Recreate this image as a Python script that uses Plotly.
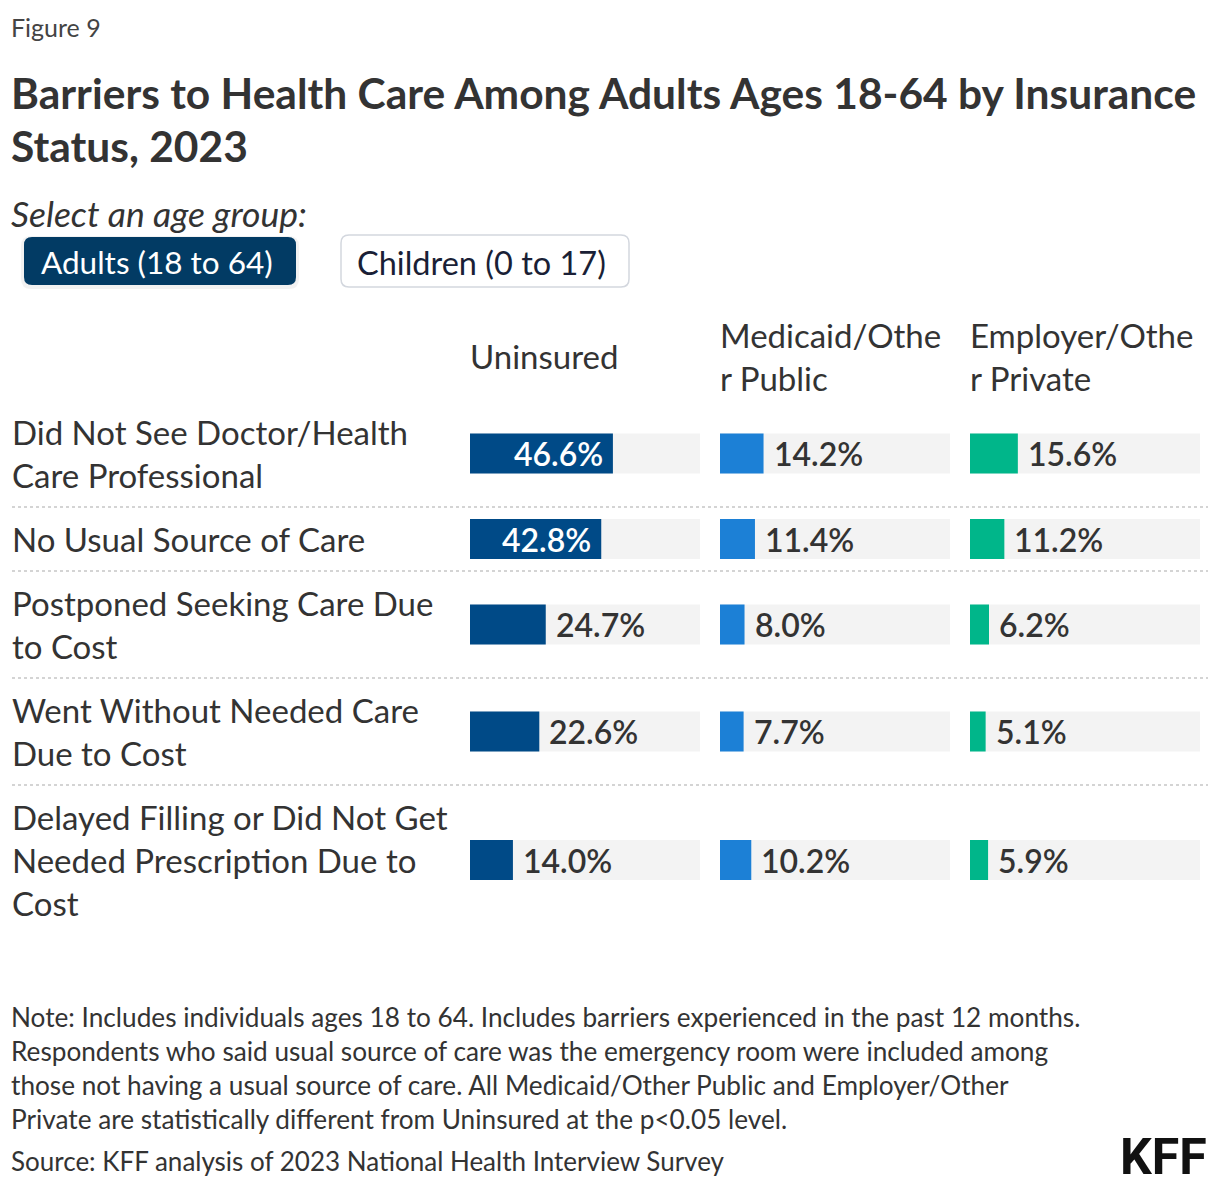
import plotly.graph_objects as go

# ---------------- data ----------------
categories = [
    "Did Not See Doctor/Health<br>Care Professional",
    "No Usual Source of Care",
    "Postponed Seeking Care Due<br>to Cost",
    "Went Without Needed Care<br>Due to Cost",
    "Delayed Filling or Did Not Get<br>Needed Prescription Due to<br>Cost",
]
groups = ["Uninsured", "Medicaid/Othe<br>r Public", "Employer/Othe<br>r Private"]
uninsured = [46.6, 42.8, 24.7, 22.6, 14.0]
medicaid = [14.2, 11.4, 8.0, 7.7, 10.2]
employer = [15.6, 11.2, 6.2, 5.1, 5.9]
series = [uninsured, medicaid, employer]
colors = ["#004a87", "#1c80d6", "#00b68a"]

title_lines = ["Barriers to Health Care Among Adults Ages 18-64 by Insurance", "Status, 2023"]
note_lines = [
    "Note: Includes individuals ages 18 to 64. Includes barriers experienced in the past 12 months.",
    "Respondents who said usual source of care was the emergency room were included among",
    "those not having a usual source of care. All Medicaid/Other Public and Employer/Other",
    "Private are statistically different from Uninsured at the p<0.05 level.",
]
source_text = "Source: KFF analysis of 2023 National Health Interview Survey"

# ---------------- layout constants ----------------
W, H = 1220, 1190
XMAX = 75
FONT = "Lato"
TXT = "#333333"
COL_X = [470, 720, 970]
COL_W = 230
BAR_H = 40
ROW_TOP = 400
LINE_H = 43
ROW_PAD = 21

# row geometry derived from the number of label lines
lines = [c.count("<br>") + 1 for c in categories]
row_h = [ROW_PAD + LINE_H * n for n in lines]
row_tops = []
t = ROW_TOP
for h in row_h:
    row_tops.append(t)
    t += h
row_centers = [rt + h / 2 for rt, h in zip(row_tops, row_h)]

fig = go.Figure()
axes = ["x", "x2", "x3"]
for i, (vals, col, ax) in enumerate(zip(series, colors, axes)):
    fig.add_trace(go.Bar(
        x=[XMAX] * len(vals), y=row_centers, orientation="h", width=BAR_H,
        marker=dict(color="#f3f3f3", line=dict(width=0)), xaxis=ax, yaxis="y",
        hoverinfo="skip", showlegend=False))
    fig.add_trace(go.Bar(
        x=vals, y=row_centers, orientation="h", width=BAR_H,
        marker=dict(color=col, line=dict(width=0)), xaxis=ax, yaxis="y",
        name=groups[i].replace("<br>", ""), showlegend=False,
        hovertemplate="%{x:.1f}%<extra></extra>"))

annotations = []
shapes = []

# value labels
for vals, ax in zip(series, axes):
    for v, yc in zip(vals, row_centers):
        inside = v / XMAX > 0.5
        annotations.append(dict(
            x=v, y=yc, xref=ax, yref="y", text=f"{v:.1f}%", showarrow=False,
            xanchor="right" if inside else "left", yanchor="middle",
            xshift=-8 if inside else 8,
            font=dict(family=FONT, size=32, weight=600,
                      color="white" if inside else TXT)))

# category labels
for c, yc in zip(categories, row_centers):
    annotations.append(dict(
        x=10, y=yc, xref="x4", yref="y", text=c, showarrow=False,
        xanchor="left", yanchor="middle", align="left",
        font=dict(family=FONT, size=33, color=TXT)))

# column headers
for g, cx in zip(groups, COL_X):
    annotations.append(dict(
        x=cx - 2, y=356, xref="x4", yref="y", text=g, showarrow=False,
        xanchor="left", yanchor="middle", align="left",
        font=dict(family=FONT, size=33, color=TXT)))

# row separators
for rt in row_tops[1:]:
    shapes.append(dict(type="line", xref="x4", yref="y", x0=12, x1=1208, y0=rt, y1=rt,
                       line=dict(color="#d4d4d4", width=2, dash="dot")))

# header texts
annotations.append(dict(x=9, y=27, xref="x4", yref="y", text="Figure 9", showarrow=False,
                        xanchor="left", yanchor="middle",
                        font=dict(family=FONT, size=25, color="#444444")))
for i, tl in enumerate(title_lines):
    annotations.append(dict(x=9, y=92 + 53 * i, xref="x4", yref="y", text=f"<b>{tl}</b>",
                            showarrow=False, xanchor="left", yanchor="middle",
                            font=dict(family=FONT, size=42.5, color=TXT)))
annotations += [
    dict(x=9, y=213, xref="x4", yref="y", text="<i>Select an age group:</i>", showarrow=False,
         xanchor="left", yanchor="middle", font=dict(family=FONT, size=35.5, color=TXT)),
    dict(x=157, y=262, xref="x4", yref="y", text="Adults (18 to 64)", showarrow=False,
         xanchor="center", yanchor="middle", font=dict(family=FONT, size=31.5, color="white")),
    dict(x=481, y=262, xref="x4", yref="y", text="Children (0 to 17)", showarrow=False,
         xanchor="center", yanchor="middle", font=dict(family=FONT, size=32.5, color="#1a1f36")),
]
for i, nl in enumerate(note_lines):
    annotations.append(dict(x=9, y=1017 + 34 * i, xref="x4", yref="y", text=nl,
                            showarrow=False, xanchor="left", yanchor="middle",
                            font=dict(family=FONT, size=26.2, color=TXT)))
annotations += [
    dict(x=9, y=1161, xref="x4", yref="y", text=source_text,
         showarrow=False, xanchor="left", yanchor="middle",
         font=dict(family=FONT, size=26, color=TXT)),
    dict(x=1209, y=1157, xref="x4", yref="y", text="<b>KFF</b>", showarrow=False,
         xanchor="right", yanchor="middle",
         font=dict(family="Liberation Sans Narrow, Roboto", size=50, color="#111111")),
]


def rounded(x0, y0, x1, y1, r):
    return (f"M{x0+r},{y0} L{x1-r},{y0} Q{x1},{y0} {x1},{y0+r} L{x1},{y1-r} "
            f"Q{x1},{y1} {x1-r},{y1} L{x0+r},{y1} Q{x0},{y1} {x0},{y1-r} "
            f"L{x0},{y0+r} Q{x0},{y0} {x0+r},{y0} Z")


# soft shadow under the active button
shapes.append(dict(type="path", xref="x4", yref="y", path=rounded(21, 236, 299, 289, 10),
                   fillcolor="rgba(0,0,0,0.05)", line=dict(width=0), layer="below"))
shapes.append(dict(type="path", xref="x4", yref="y", path=rounded(24, 237, 296, 285, 8),
                   fillcolor="#023b64", line=dict(width=0), layer="below"))
shapes.append(dict(type="path", xref="x4", yref="y", path=rounded(341, 235, 629, 287, 8),
                   fillcolor="white", line=dict(color="#d3d7de", width=1.5), layer="below"))

layout_axes = {}
for i, ax in enumerate(axes):
    key = "xaxis" if i == 0 else f"xaxis{i+1}"
    layout_axes[key] = dict(domain=[COL_X[i] / W, (COL_X[i] + COL_W) / W], range=[0, XMAX],
                            visible=False, anchor="y", fixedrange=True)
layout_axes["xaxis4"] = dict(domain=[0, 1], range=[0, W], visible=False, anchor="y",
                             fixedrange=True)

fig.update_layout(
    width=W, height=H,
    margin=dict(l=0, r=0, t=0, b=0),
    paper_bgcolor="white", plot_bgcolor="rgba(0,0,0,0)",
    barmode="overlay",
    yaxis=dict(domain=[0, 1], range=[H, 0], visible=False, fixedrange=True),
    annotations=annotations, shapes=shapes,
    font=dict(family=FONT, color=TXT),
    **layout_axes,
)

fig.write_html("out.html", post_script="document.body.style.margin='0';",
               config={"displayModeBar": False})
